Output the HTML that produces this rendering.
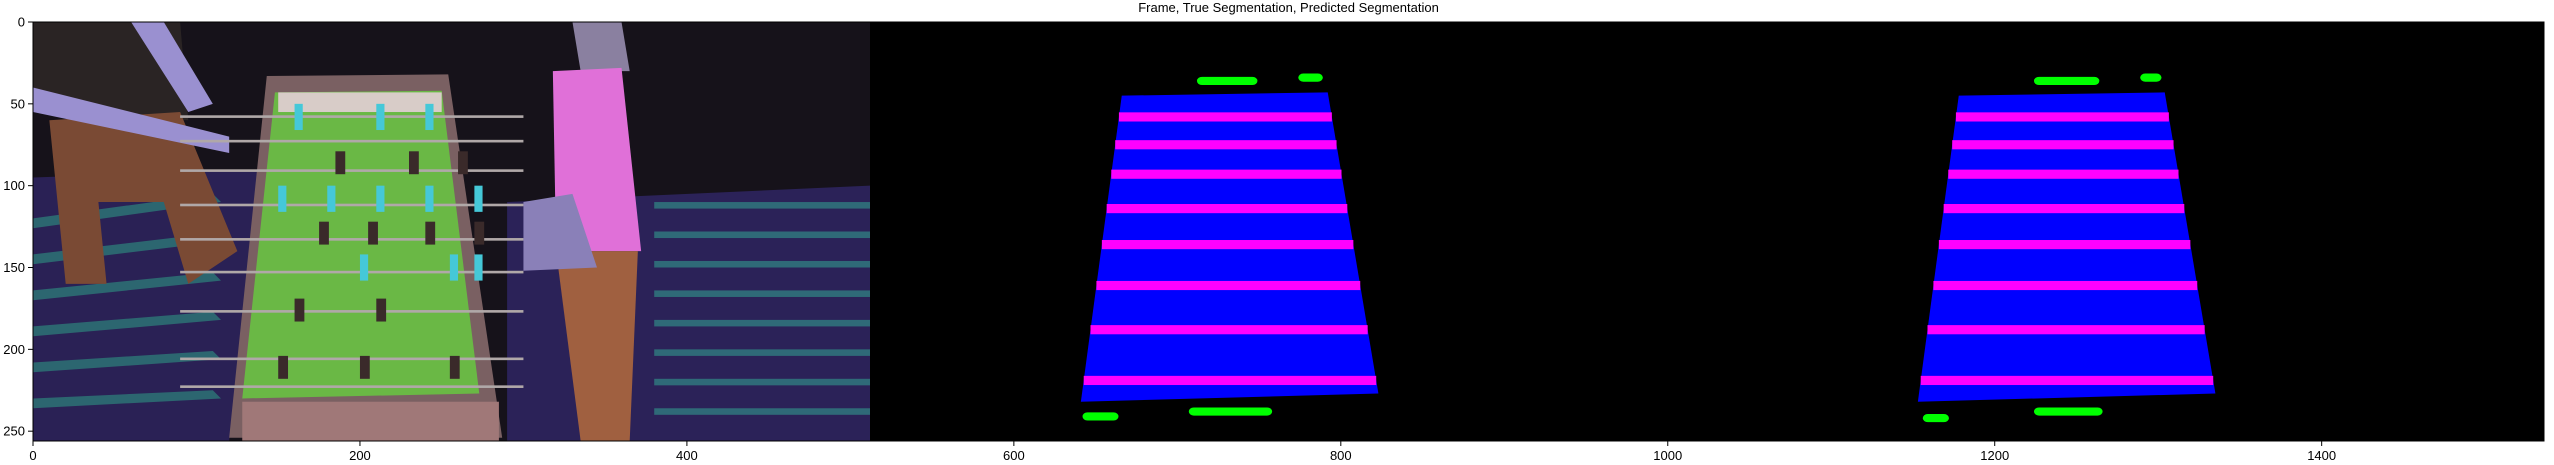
<!DOCTYPE html>
<html><head><meta charset="utf-8">
<style>
html,body{margin:0;padding:0;background:#fff;}
body{width:2554px;height:465px;position:relative;overflow:hidden;font-family:"Liberation Sans","DejaVu Sans",sans-serif;}
#title{position:absolute;top:0;left:33px;width:2511px;text-align:center;font-size:13px;line-height:16px;color:#000;}
svg{position:absolute;left:0;top:0;}
</style></head>
<body>
<div id="title">Frame, True Segmentation, Predicted Segmentation</div>
<svg id="chart" width="2554" height="465"></svg>
<script>
// axis data
const xTicks = [0,200,400,600,800,1000,1200,1400];
const yTicks = [0,50,100,150,200,250];
const xMax = 1536, yMax = 256;
// segmentation mask data (data coords)
const fieldQuad = [[666,45],[792,43],[823,227],[641,232]];
const rodStripesY = [58,75,93,114,136,161,188,219];
const playerBlobs = [[712,749,36],[774,789,34],[642,664,241],[707,758,238]];
const predOffset = 512;
const predStripesY = [58,75,93,114,136,161,188,219];
const predBlobs = [[712,752,36],[777,790,34],[644,660,242],[712,754,238]];

const L=33,T=22,W=2511,H=419;
const sx=v=>L+v*W/xMax, sy=v=>T+v*H/yMax;
const NS="http://www.w3.org/2000/svg";
const svg=document.getElementById('chart');
function mk(tag,attrs,parent){const e=document.createElementNS(NS,tag);for(const k in attrs)e.setAttribute(k,attrs[k]);(parent||svg).appendChild(e);return e;}
function poly(pts,fill,name,p){const e=mk('polygon',{points:pts.map(q=>sx(q[0])+','+sy(q[1])).join(' '),fill:fill},p);

return e;}
function rect(x0,y0,x1,y1,fill,name,p){const e=mk('rect',{x:sx(x0),y:sy(y0),width:sx(x1)-sx(x0),height:sy(y1)-sy(y0),fill:fill},p);

return e;}

// black background for masks
rect(512,0,1536,256,'#000','mask-background');
// photo frame (approximation)
const photo=mk('g',{});


rect(0,0,512,256,'#16121a','frame-background',photo);
poly([[0,95],[140,90],[120,256],[0,256]],'#2a2155','carpet-left',photo);
poly([[290,110],[512,100],[512,256],[290,256]],'#2b2258','carpet-right',photo);
for(let i=0;i<8;i++){rect(380,110+i*18,512,114+i*18,'#2f6a78','carpet-stripe',photo);}
for(let i=0;i<6;i++){poly([[0,120+i*22],[110,105+i*24],[115,110+i*24],[0,126+i*22]],'#2c6670','carpet-pattern',photo);}
poly([[0,0],[90,0],[95,60],[0,55]],'#2a2424','left-person-shirt',photo);
poly([[10,60],[90,55],[125,140],[95,160],[80,110],[40,110],[45,160],[20,160]],'#7a4a34','left-person-pants',photo);
poly([[0,40],[120,70],[120,80],[0,55]],'#9a90d0','left-person-arm',photo);
poly([[60,0],[80,0],[110,50],[95,55]],'#9a90d0','left-person-arm2',photo);
poly([[143,33],[254,32],[287,254],[120,254]],'#7a6062','table-frame',photo);
poly([[148,43],[250,42],[273,227],[128,230]],'#6ab845','table-field',photo);
rect(150,43,250,55,'#d8ccc8','table-end',photo);
const rods=[57,72,90,111,132,152,176,205,222];
rods.forEach(y=>{rect(90,y,300,y+1.6,'#b0a8a8','table-rod',photo);});
[[160,58],[210,58],[240,58],[150,108],[180,108],[210,108],[240,108],[270,108],[200,150],[255,150],[270,150]].forEach(p=>rect(p[0],p[1]-8,p[0]+5,p[1]+8,'#45c8d8','blue-player',photo));
[[185,85],[230,85],[260,85],[175,128],[205,128],[240,128],[270,128],[160,175],[210,175],[150,210],[200,210],[255,210]].forEach(p=>rect(p[0],p[1]-6,p[0]+6,p[1]+8,'#3a2a2a','dark-player',photo));
rect(128,232,285,256,'#a07878','table-front',photo);
poly([[330,0],[360,0],[365,30],[335,30]],'#8a80a0','right-person-head',photo);
poly([[318,30],[360,28],[372,140],[320,140]],'#e070d8','right-person-shirt',photo);
poly([[320,140],[370,140],[365,256],[335,256]],'#a06040','right-person-pants',photo);
poly([[300,110],[330,105],[345,150],[300,152]],'#8a80b8','right-person-arms',photo);

// true segmentation
function drawMask(off,stripes,blobs,prefix){
  poly(fieldQuad.map(q=>[q[0]+off,q[1]]),'#0000ff',prefix+'-table-region');
  const leftX=y=>{const a=fieldQuad[0],b=fieldQuad[3];return a[0]+(b[0]-a[0])*(y-a[1])/(b[1]-a[1]);};
  const rightX=y=>{const a=fieldQuad[1],b=fieldQuad[2];return a[0]+(b[0]-a[0])*(y-a[1])/(b[1]-a[1]);};
  stripes.forEach(y=>{
    const e=mk('rect',{x:sx(leftX(y)+off),y:sy(y-2.8),width:sx(rightX(y)+off)-sx(leftX(y)+off),height:sy(y+2.8)-sy(y-2.8),fill:'#ff00ff'});
    
    
  });
  blobs.forEach(b=>{
    const e=mk('rect',{x:sx(b[0]+off),y:sy(b[2]-2.5),width:sx(b[1])-sx(b[0]),height:sy(b[2]+2.5)-sy(b[2]-2.5),rx:5,fill:'#00ff00'});
    
    
  });
}
drawMask(0,rodStripesY,playerBlobs,'true');
drawMask(predOffset,predStripesY,predBlobs,'pred');

// axes frame
const fr=mk('rect',{x:L,y:T,width:W,height:H,fill:'none',stroke:'#000','stroke-width':1});


xTicks.forEach(v=>{
  const t=mk('line',{x1:sx(v),x2:sx(v),y1:T+H,y2:T+H+5,stroke:'#000'});
  
  
  const l=mk('text',{x:sx(v),y:T+H+19,'text-anchor':'middle','font-size':13,fill:'#000'});
  l.textContent=v;
  
  
});
yTicks.forEach(v=>{
  const t=mk('line',{x1:L-5,x2:L,y1:sy(v),y2:sy(v),stroke:'#000'});
  
  
  const l=mk('text',{x:L-8,y:sy(v)+4.5,'text-anchor':'end','font-size':13,fill:'#000'});
  l.textContent=v;
  
  
});
</script>
</body></html>
